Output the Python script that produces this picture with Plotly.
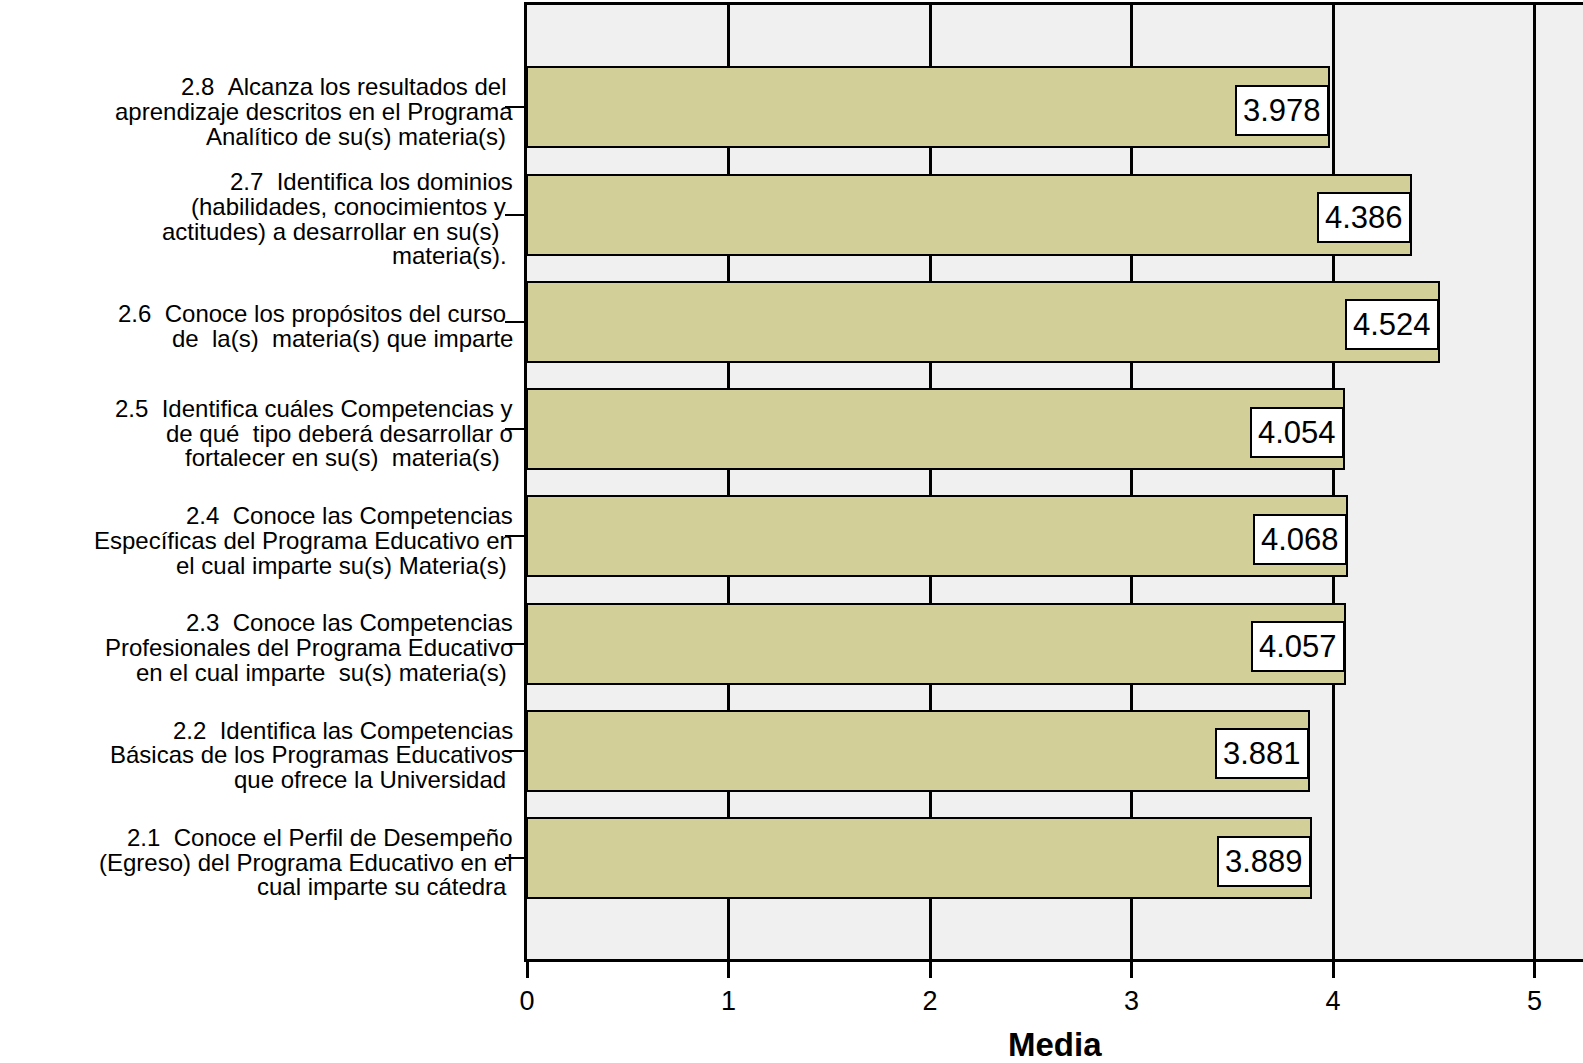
import plotly.graph_objects as go

# Survey items (bottom to top) and their mean scores
item_labels = [
    ["2.1  Conoce el Perfil de Desempeño", "(Egreso) del Programa Educativo en el", "cual imparte su cátedra "],
    ["2.2  Identifica las Competencias", "Básicas de los Programas Educativos", "que ofrece la Universidad "],
    ["2.3  Conoce las Competencias", "Profesionales del Programa Educativo", "en el cual imparte  su(s) materia(s) "],
    ["2.4  Conoce las Competencias", "Específicas del Programa Educativo en", "el cual imparte su(s) Materia(s) "],
    ["2.5  Identifica cuáles Competencias y", "de qué  tipo deberá desarrollar o", "fortalecer en su(s)  materia(s)  "],
    ["2.6  Conoce los propósitos del curso ", "de  la(s)  materia(s) que imparte"],
    ["2.7  Identifica los dominios", "(habilidades, conocimientos y ", "actitudes) a desarrollar en su(s)  ", "materia(s). "],
    ["2.8  Alcanza los resultados del ", "aprendizaje descritos en el Programa", "Analítico de su(s) materia(s) "],
]
mean_values = [3.889, 3.881, 4.057, 4.068, 4.054, 4.524, 4.386, 3.978]
x_tick_values = [0, 1, 2, 3, 4, 5]
x_tick_labels = ["0", "1", "2", "3", "4", "5"]
axis_title = "Media"

positions = list(range(len(mean_values)))

BAR_COLOR = "#D3CF99"
FONT = "Liberation Sans, Arial, sans-serif"
LINE_GAP = 24.7  # px between label lines

fig = go.Figure()
fig.add_trace(go.Bar(
    y=positions,
    x=mean_values,
    orientation="h",
    width=0.745,
    marker=dict(color=BAR_COLOR, line=dict(color="black", width=2)),
    hoverinfo="skip",
    showlegend=False,
))

annotations = []
# Value boxes at the end of each bar
for pos, val in zip(positions, mean_values):
    annotations.append(dict(
        x=val, y=pos, xref="x", yref="y",
        text=f"{val:.3f}", showarrow=False,
        xanchor="right", yanchor="middle", yshift=-3,
        font=dict(family=FONT, size=31, color="black"),
        bgcolor="white", bordercolor="black", borderwidth=2, borderpad=6,
    ))

# Multi-line category labels, one annotation per line
for pos, lines in zip(positions, item_labels):
    n = len(lines)
    for i, line in enumerate(lines):
        offset = 4 + (i - (n - 1) / 2) * LINE_GAP
        annotations.append(dict(
            x=0, y=pos, xref="paper", yref="y",
            text=line.replace(" ", "\u00a0"), showarrow=False,
            xanchor="right", yanchor="middle", align="right",
            xshift=-12, yshift=-offset,
            font=dict(family=FONT, size=24, color="black"),
        ))

# X-axis title below the tick labels
annotations.append(dict(
    x=0.5, y=0, xref="paper", yref="paper",
    text=f"<b>{axis_title}</b>", showarrow=False,
    xanchor="center", yanchor="middle", yshift=-85,
    font=dict(family=FONT, size=33, color="black"),
))

fig.update_layout(
    width=1583, height=1063,
    margin=dict(l=527, r=0, t=5, b=104, autoexpand=False),
    paper_bgcolor="white",
    plot_bgcolor="#F0F0F0",
    annotations=annotations,
    bargap=0,
)

fig.update_xaxes(
    range=[0, 5.24],
    tickvals=x_tick_values, ticktext=x_tick_labels,
    ticks="outside", ticklen=16, tickwidth=3, tickcolor="black",
    tickfont=dict(family=FONT, size=27, color="black"),
    showgrid=True, gridcolor="black", gridwidth=2.5,
    showline=True, linecolor="black", linewidth=3, mirror=True,
    zeroline=False, automargin=False,
)
fig.update_yaxes(
    range=[-0.94, 7.955],
    tickvals=positions, ticktext=["" for _ in positions],
    ticks="outside", ticklen=19, tickwidth=2, tickcolor="black",
    showgrid=False, zeroline=False, automargin=False,
    showline=True, linecolor="black", linewidth=3, mirror=False,
)

fig.write_html("out.html", config={"displayModeBar": False})
